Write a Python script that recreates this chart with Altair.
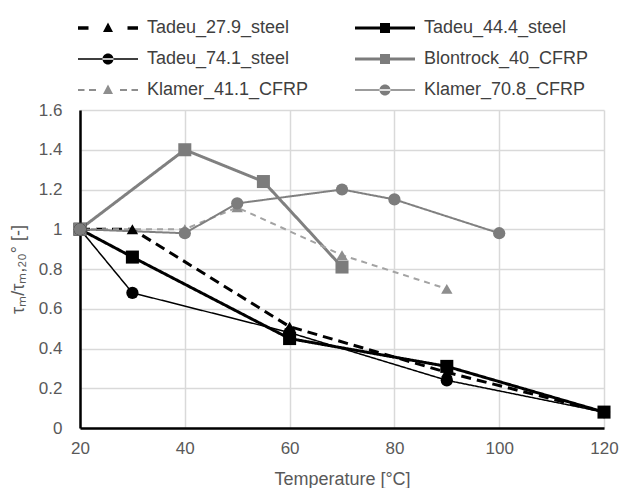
import altair as alt
import pandas as pd

series_names = [
    "Tadeu_27.9_steel",
    "Tadeu_44.4_steel",
    "Tadeu_74.1_steel",
    "Blontrock_40_CFRP",
    "Klamer_41.1_CFRP",
    "Klamer_70.8_CFRP",
]

tadeu_279_T = [20, 30, 60, 90, 120]
tadeu_279_v = [1.0, 1.0, 0.51, 0.28, 0.08]
tadeu_444_T = [20, 30, 60, 90, 120]
tadeu_444_v = [1.0, 0.86, 0.45, 0.31, 0.08]
tadeu_741_T = [20, 30, 60, 90, 120]
tadeu_741_v = [1.0, 0.68, 0.48, 0.24, 0.08]
blontrock_T = [20, 40, 55, 70]
blontrock_v = [1.0, 1.40, 1.24, 0.81]
klamer_411_T = [20, 40, 50, 70, 90]
klamer_411_v = [1.0, 1.0, 1.11, 0.87, 0.70]
klamer_708_T = [20, 40, 50, 70, 80, 100]
klamer_708_v = [1.0, 0.98, 1.13, 1.20, 1.15, 0.98]

x_ticks = [20, 40, 60, 80, 100, 120]
y_ticks = [0, 0.2, 0.4, 0.6, 0.8, 1.0, 1.2, 1.4, 1.6]

series_T = [tadeu_279_T, tadeu_444_T, tadeu_741_T, blontrock_T, klamer_411_T, klamer_708_T]
series_v = [tadeu_279_v, tadeu_444_v, tadeu_741_v, blontrock_v, klamer_411_v, klamer_708_v]

rows = []
for i, (name, Ts, vs) in enumerate(zip(series_names, series_T, series_v)):
    for t, v in zip(Ts, vs):
        rows.append({"series": name, "sid": i, "T": t, "v": v})
df = pd.DataFrame(rows)
sids = list(range(len(series_names)))

# styles
stroke_colors = ["#000000", "#000000", "#000000", "#808080", "#a3a3a3", "#808080"]
fill_colors = ["#000000", "#000000", "#000000", "#7c7c7c", "#8e8e8e", "#7c7c7c"]
dashes = [[10, 6], [1, 0], [1, 0], [1, 0], [6, 5], [1, 0]]
widths = [3, 3, 1.5, 3, 2, 2]


def rect(x0, x1, h):
    return f"M{x0},{-h}H{x1}V{h}H{x0}Z"


def square(s):
    return f"M{-s},{-s}H{s}V{s}H{-s}Z"


def circle(r):
    return f"M{-r},0A{r},{r} 0 1,0 {r},0A{r},{r} 0 1,0 {-r},0Z"


def tri(s):
    return f"M0,{-s * 1.1}L{s},{s * 0.8}L{-s},{s * 0.8}Z"


legend_paths = [
    rect(-3, -1.95, 0.17) + rect(1.95, 3, 0.17) + tri(0.5),
    rect(-3, 3, 0.15) + square(0.5),
    rect(-3, 3, 0.08) + circle(0.55),
    rect(-3, 3, 0.15) + square(0.5),
    rect(-3, -2.35, 0.09) + rect(-1.9, -1.2, 0.09) + rect(1.2, 1.9, 0.09) + rect(2.35, 3, 0.09) + tri(0.5),
    rect(-3, 3, 0.08) + circle(0.55),
]

FONT = "Liberation Sans"

x_enc = alt.X(
    "T:Q",
    scale=alt.Scale(domain=[20, 120], nice=False),
    axis=alt.Axis(
        values=x_ticks,
        title="Temperature [°C]",
        labelFlush=False,
        labelPadding=12,
        titlePadding=14,
    ),
)
y_enc = alt.Y(
    "v:Q",
    scale=alt.Scale(domain=[0, 1.6], nice=False),
    axis=alt.Axis(
        values=y_ticks,
        format=".1~f",
        title="τₘ/τₘ,₂₀° [-]",
        labelFlush=False,
        labelPadding=18,
        titlePadding=11,
    ),
)

base = alt.Chart(df).encode(x=x_enc, y=y_enc)

lines = base.mark_line().encode(
    stroke=alt.Stroke("sid:N", scale=alt.Scale(domain=sids, range=stroke_colors), legend=None),
    strokeDash=alt.StrokeDash("sid:N", scale=alt.Scale(domain=sids, range=dashes), legend=None),
    strokeWidth=alt.StrokeWidth("sid:N", scale=alt.Scale(type="ordinal", domain=sids, range=widths), legend=None),
)

fill_enc = alt.Fill("sid:N", scale=alt.Scale(domain=sids, range=fill_colors), legend=None)

tri_pts = base.transform_filter(
    alt.FieldOneOfPredicate(field="series", oneOf=["Tadeu_27.9_steel", "Klamer_41.1_CFRP"])
).mark_point(shape="triangle-up", filled=True, opacity=1, size=130).encode(fill=fill_enc)

sq_pts = base.transform_filter(
    alt.FieldOneOfPredicate(field="series", oneOf=["Tadeu_44.4_steel", "Blontrock_40_CFRP"])
).mark_point(shape="square", filled=True, opacity=1, size=170).encode(fill=fill_enc)

ci_pts = base.transform_filter(
    alt.FieldOneOfPredicate(field="series", oneOf=["Tadeu_74.1_steel", "Klamer_70.8_CFRP"])
).mark_point(shape="circle", filled=True, opacity=1, size=150).encode(fill=fill_enc)

legend = alt.Legend(
    title=None,
    orient="none",
    legendX=-2,
    legendY=-92,
    columns=2,
    direction="horizontal",
    padding=0,
    symbolSize=400,
    symbolStrokeWidth=0,
    symbolOpacity=1,
    symbolOffset=20,
    labelOffset=29,
    labelFontSize=18,
    labelFont=FONT,
    labelColor="#404040",
    labelLimit=400,
    columnPadding=46,
    rowPadding=12,
)

legend_layer = base.mark_point(filled=True, opacity=0, size=400).encode(
    color=alt.Color("series:N", scale=alt.Scale(domain=series_names, range=fill_colors), legend=legend),
    shape=alt.Shape("series:N", scale=alt.Scale(domain=series_names, range=legend_paths), legend=legend),
)

chart = (
    alt.layer(lines, tri_pts, sq_pts, ci_pts, legend_layer)
    .properties(
        width=524,
        height=318,
        autosize=alt.AutoSizeParams(type="none"),
        padding={"left": 72, "top": 102, "right": 20, "bottom": 60},
    )
    .configure_view(stroke=None)
    .configure_axis(
        grid=True,
        gridColor="#d9d9d9",
        gridWidth=1.5,
        domainColor="#000000",
        domainWidth=2.5,
        ticks=False,
        tickSize=0,
        labelFont=FONT,
        labelFontSize=17,
        labelColor="#595959",
        titleFont=FONT,
        titleFontSize=18,
        titleFontWeight="normal",
        titleColor="#595959",
    )
)

chart.save("out.html", embed_options={"renderer": "svg", "actions": False})
